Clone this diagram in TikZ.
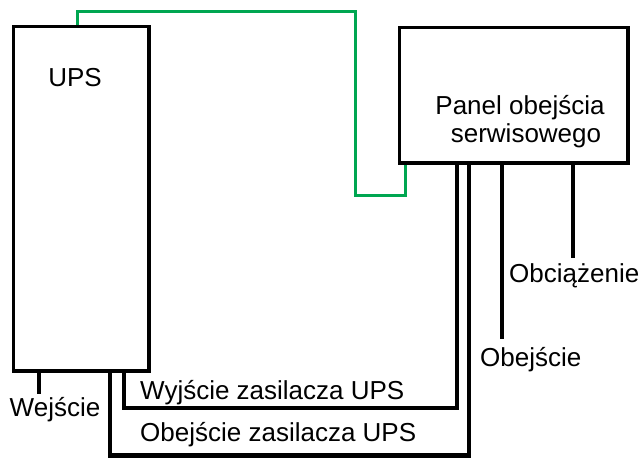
\documentclass[tikz,border=0pt]{standalone}
\usepackage{fontspec}
\setmainfont{Liberation Sans}
\definecolor{wiregreen}{RGB}{0,166,81}
\begin{document}
\begin{tikzpicture}[x=1pt,y=-1pt,
  box/.style={draw=black,line width=2.5pt,fill=white,inner sep=0pt},
  cable/.style={draw=black,line width=4.5pt,line cap=butt},
  gcable/.style={draw=wiregreen,line width=3pt,line join=miter},
  lbl/.style={font=\fontsize{26}{28}\selectfont,inner sep=0pt,anchor=base west}]
\useasboundingbox (0,0) rectangle (642,458);
\fill[white] (0,0) rectangle (642,458);
% boxes
\node[box,minimum width=134pt,minimum height=343pt] (ups) at (81,198.5) {};
\node[box,minimum width=227pt,minimum height=134pt] (panel) at (513.5,95) {};
% box texts
\node[lbl,anchor=base] (upstxt) at (75,86) {UPS};
\node[lbl,anchor=base] (paneltxtA) at (520,114) {Panel obejścia};
\node[lbl,anchor=base] (paneltxtB) at (526,142) {serwisowego};
% coordinates on boxes
\coordinate (gA) at (77,27);
\coordinate (gB) at (405,162);
\coordinate (wejA) at (39,370);
\coordinate (wejB) at (39,394);
\coordinate (wyA) at (124,370);
\coordinate (wyB) at (457,162);
\coordinate (obA) at (110,370);
\coordinate (obB) at (469,162);
\coordinate (byA) at (502,162);
\coordinate (byB) at (502,339);
\coordinate (ldA) at (573,162);
\coordinate (ldB) at (573,258);
% green link
\draw[gcable] (gA) -- (77,11) -- (355,11) -- (355,195) -- (405,195) -- (gB);
% black cables
\draw[cable,line join=miter] (wyA) -- (124,408) -- (457,408) -- (wyB);
\draw[cable,line join=miter] (obA) -- (110,455.5) -- (469,455.5) -- (obB);
\draw[cable] (wejA) -- (wejB);
\draw[cable] (byA) -- (byB);
\draw[cable] (ldA) -- (ldB);
% redraw box outlines on top
\draw[black,line width=2.5pt] (ups.south west) rectangle (ups.north east);
\draw[black,line width=2.5pt] (panel.south west) rectangle (panel.north east);
% labels
\node[lbl,anchor=base] (wejtxt) at (55,416) {Wejście};
\node[lbl] (wytxt) at (140,399) {Wyjście zasilacza UPS};
\node[lbl] (obtxt) at (140,441) {Obejście zasilacza UPS};
\node[lbl] (bytxt) at (480,366) {Obejście};
\node[lbl] (ldtxt) at (509,282) {Obciążenie};
\end{tikzpicture}
\end{document}
